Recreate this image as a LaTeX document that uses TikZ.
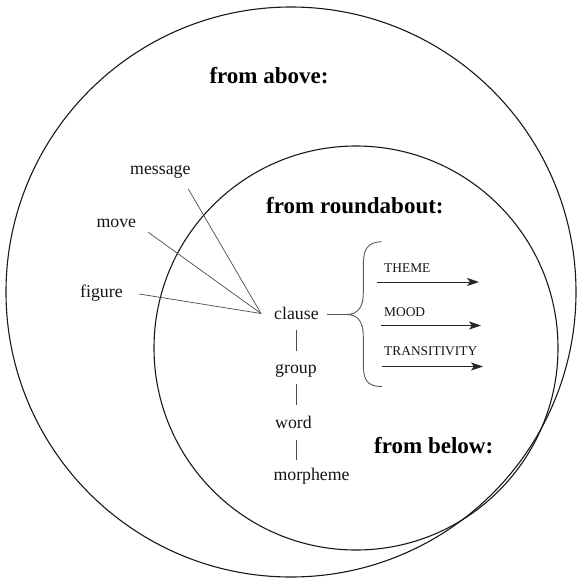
\documentclass[tikz,border=0pt]{standalone}
\usepackage{fontspec}
\setmainfont{Liberation Serif}
\usetikzlibrary{arrows.meta}
\begin{document}
\begin{tikzpicture}[x=1pt,y=-1pt,
  ring/.style={draw=black!90, line width=1.1pt},
  unit/.style={anchor=base west, inner sep=0pt, font=\fontsize{17.8}{20}\selectfont, text=black!92},
  system/.style={anchor=base west, inner sep=0pt, font=\fontsize{13.4}{16}\selectfont, text=black!92},
  heading/.style={anchor=base west, inner sep=0pt, font=\fontsize{23}{26}\selectfont\bfseries},
  link/.style={draw=black!70, line width=0.7pt},
  rank/.style={draw=black!70, line width=0.9pt},
  bracket/.style={draw=black!65, line width=0.9pt},
  flow/.style={draw=black!85, line width=0.9pt, -{Stealth[length=12pt,width=8pt,inset=3pt]}}]
\useasboundingbox (0,0) rectangle (577,579);

% the three perspectives as nested circles
\draw[ring] (291,292) circle[radius=285pt];
\draw[ring] (356,348) circle[radius=202pt];

% headings
\node[heading] (above)      at (209.3,83.3)  {from above:};
\node[heading] (roundabout) at (266,213.3)   {from roundabout:};
\node[heading] (below)      at (374,453.3)   {from below:};

% higher-level units
\node[unit] (message) at (130,174.3) {message};
\node[unit] (move)    at (96.4,227.3) {move};
\node[unit] (figure)  at (80,297.3)  {figure};

% rank scale
\node[unit] (clause)   at (274,319.3)  {clause};
\node[unit] (group)    at (275,373.3)  {group};
\node[unit] (word)     at (275,428.3)  {word};
\node[unit] (morpheme) at (273.3,480)  {morpheme};

% systems of the clause
\node[system] (theme)        at (384,272.7) {THEME};
\node[system] (mood)         at (384,316.7) {MOOD};
\node[system] (transitivity) at (384,355)   {TRANSITIVITY};

% realisation lines converging on the clause
\coordinate (hub)     at (261,313.5);
\coordinate (msg-end) at (188.3,189);
\coordinate (mov-end) at (148.3,232.3);
\coordinate (fig-end) at (139.3,294);
\draw[link] (msg-end) -- (hub);
\draw[link] (mov-end) -- (hub);
\draw[link] (fig-end) -- (hub);

% rank bars
\coordinate (cg-top) at (296.7,330);  \coordinate (cg-bot) at (296.7,351);
\coordinate (gw-top) at (296.7,384);  \coordinate (gw-bot) at (296.7,405);
\coordinate (wm-top) at (296.7,440);  \coordinate (wm-bot) at (296.7,460);
\draw[rank] (cg-top) -- (cg-bot);
\draw[rank] (gw-top) -- (gw-bot);
\draw[rank] (wm-top) -- (wm-bot);

% brace from the clause to its systems
\coordinate (brace-in)  at (327,314.5);
\coordinate (brace-tip) at (346.5,314.5);
\draw[bracket] (brace-in) -- (brace-tip);
\draw[bracket] (381.7,241.7) .. controls (367,242) and (363.3,250) .. (363.3,265)
  -- (363.3,293) .. controls (363.3,307) and (358,314.5) .. (brace-tip)
  .. controls (358,314.5) and (363.3,322) .. (363.3,336)
  -- (363.3,364) .. controls (363.3,380) and (367,386.5) .. (382,386.5);

% system arrows
\coordinate (theme-from) at (377,282);    \coordinate (theme-to) at (479,282);
\coordinate (mood-from)  at (381,325.5);  \coordinate (mood-to)  at (481,325.5);
\coordinate (trans-from) at (381.7,366.5); \coordinate (trans-to) at (483,366.5);
\draw[flow] (theme-from) -- (theme-to);
\draw[flow] (mood-from) -- (mood-to);
\draw[flow] (trans-from) -- (trans-to);
\end{tikzpicture}
\end{document}
